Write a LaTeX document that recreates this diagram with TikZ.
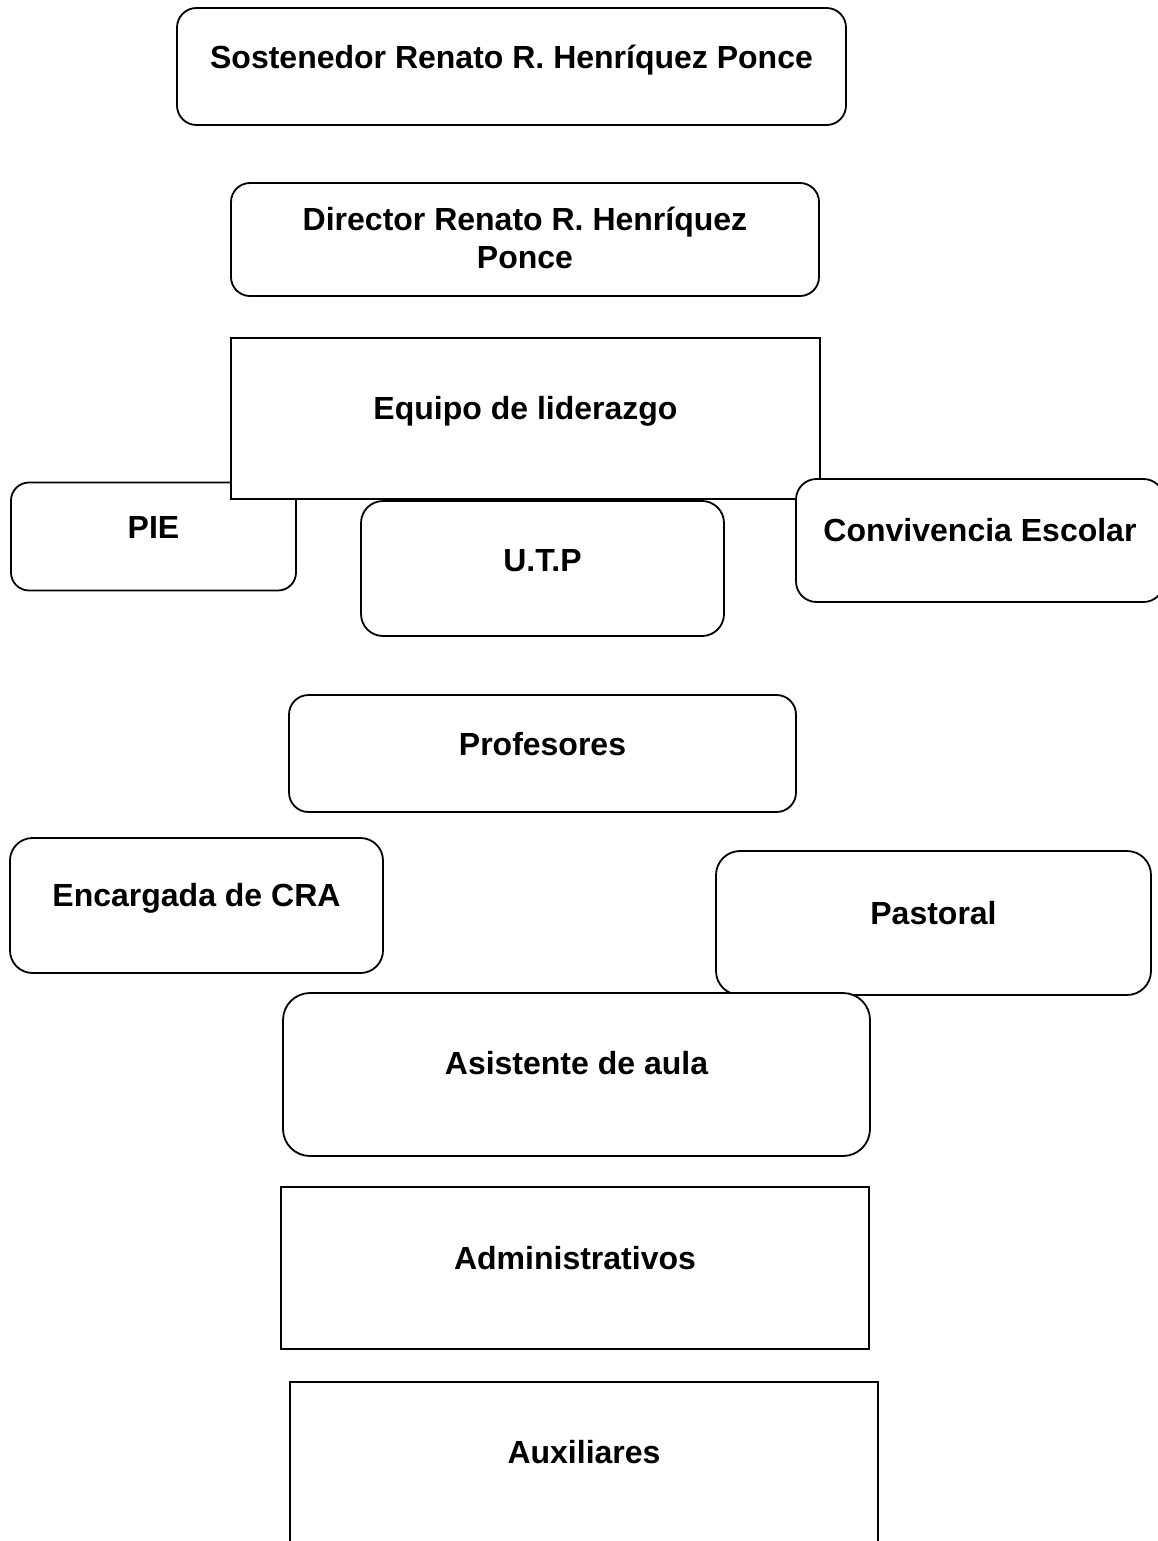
\documentclass[tikz,border=0pt]{standalone}
\usepackage{fontspec}
\setmainfont{Liberation Sans}
\begin{document}
\begin{tikzpicture}[x=1pt,y=-1pt,
  boxbase/.style={draw=black, fill=white, line width=1.8pt, inner sep=0pt, outer sep=0pt},
  txt/.style={inner sep=0pt, anchor=base, font=\fontsize{32}{36.8}\selectfont\bfseries}]
\useasboundingbox (0,0) rectangle (1158,1541);
\clip (0,0) rectangle (1158,1541);
% Sostenedor
\node[boxbase, rounded corners=19.5pt, minimum width=669pt, minimum height=117pt] (sost) at (511.5,66.5) {};
\node[txt] (sostT) at (511.5,68.5) {Sostenedor Renato R. Henríquez Ponce};
% Director
\node[boxbase, rounded corners=19pt, minimum width=588pt, minimum height=113pt] (dir) at (525,239.5) {};
\node[txt] (dirT1) at (525,230) {Director Renato R. Henríquez};
\node[txt] (dirT2) at (525,268) {Ponce};
% PIE
\node[boxbase, rounded corners=18pt, minimum width=285pt, minimum height=108pt] (pie) at (153.5,536.5) {};
\node[txt] (pieT) at (153.5,538) {PIE};
% Equipo de liderazgo
\node[boxbase, minimum width=589pt, minimum height=161pt] (equipo) at (525.5,418.5) {};
\node[txt] (equipoT) at (525.5,419) {Equipo de liderazgo};
% U.T.P
\node[boxbase, rounded corners=22pt, minimum width=363pt, minimum height=135pt] (utp) at (542.5,568.5) {};
\node[txt] (utpT) at (542.5,571) {U.T.P};
% Convivencia Escolar
\node[boxbase, rounded corners=20.5pt, minimum width=368pt, minimum height=123pt] (conv) at (980,540.5) {};
\node[txt] (convT) at (980,541.5) {Convivencia Escolar};
% Profesores
\node[boxbase, rounded corners=19.5pt, minimum width=507pt, minimum height=117pt] (prof) at (542.5,753.5) {};
\node[txt] (profT) at (542.5,755) {Profesores};
% Encargada de CRA
\node[boxbase, rounded corners=22.5pt, minimum width=373pt, minimum height=135pt] (cra) at (196.5,905.5) {};
\node[txt] (craT) at (196.5,906) {Encargada de CRA};
% Pastoral
\node[boxbase, rounded corners=24pt, minimum width=435pt, minimum height=144pt] (past) at (933.5,923) {};
\node[txt] (pastT) at (933.5,924) {Pastoral};
% Asistente de aula
\node[boxbase, rounded corners=27pt, minimum width=587pt, minimum height=163pt] (asis) at (576.5,1074.5) {};
\node[txt] (asisT) at (576.5,1074) {Asistente de aula};
% Administrativos
\node[boxbase, minimum width=588pt, minimum height=162pt] (admin) at (575,1268) {};
\node[txt] (adminT) at (575,1269) {Administrativos};
% Auxiliares
\node[boxbase, minimum width=588pt, minimum height=180pt] (aux) at (584,1472) {};
\node[txt] (auxT) at (584,1463) {Auxiliares};
\end{tikzpicture}
\end{document}
